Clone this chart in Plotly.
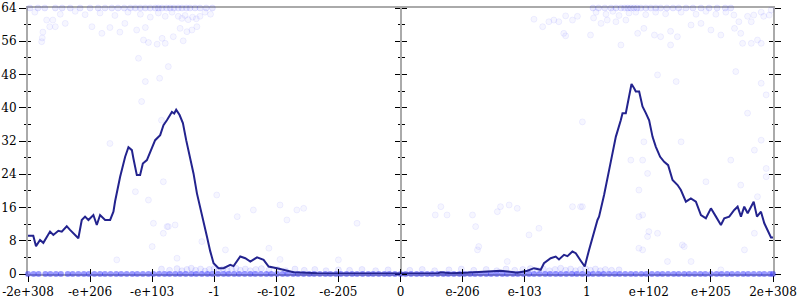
import plotly.graph_objects as go

# ---------------- data ----------------
tick_pos = [-6, -5, -4, -3, -2, -1, 0, 1, 2, 3, 4, 5, 6]
tick_labels = ["-2e+308", "-e+206", "-e+103", "-1", "-e-102", "-e-205", "0",
               "e-206", "e-103", "1", "e+102", "e+205", "2e+308"]
y_ticks = [0, 8, 16, 24, 32, 40, 48, 56, 64]

line_x = [-6.000,-5.915,-5.871,-5.806,-5.753,-5.698,-5.645,-5.592,-5.511,-5.456,
          -5.376,-5.323,-5.269,-5.189,-5.134,-5.081,-5.027,-4.947,-4.892,-4.839,
          -4.758,-4.677,-4.624,-4.597,-4.516,-4.435,-4.382,-4.327,-4.302,-4.247,
          -4.194,-4.150,-4.085,-4.032,-3.952,-3.871,-3.818,-3.763,-3.682,-3.645,
          -3.613,-3.560,-3.505,-3.452,-3.387,-3.334,-3.279,-3.198,-3.118,-3.065,
          -3.011,-2.931,-2.850,-2.742,-2.689,-2.581,-2.500,-2.419,-2.311,-2.205,
          -2.124,-1.989,-1.882,-1.721,-1.344,-0.968,-0.484,0.0,0.592,0.645,
          0.806,1.048,1.344,1.613,1.882,2.044,2.150,2.258,2.311,2.419,
          2.500,2.553,2.634,2.689,2.769,2.823,2.903,2.968,3.037,3.118,
          3.173,3.198,3.279,3.360,3.415,3.468,3.548,3.576,3.629,3.682,
          3.721,3.763,3.790,3.844,3.898,3.952,4.005,4.060,4.113,4.182,
          4.247,4.311,4.382,4.463,4.516,4.597,4.677,4.758,4.839,4.919,
          5.000,5.081,5.161,5.215,5.295,5.376,5.430,5.484,5.537,5.592,
          5.689,5.742,5.806,5.860,5.915,5.968,6.000]
line_y = [9.2,9.2,6.7,8.2,7.5,9.0,10.2,9.4,10.4,10.2,
          11.5,10.6,9.8,8.6,13.0,13.8,13.0,14.2,11.8,14.2,
          13.0,13.0,15.0,17.5,23.4,28.2,30.5,29.8,27.8,23.8,
          23.8,26.6,27.4,29.4,32.2,33.4,35.8,37.0,39.0,38.6,
          39.5,38.3,36.3,32.2,28.2,24.2,19.4,13.8,9.0,5.5,
          2.6,1.4,1.4,2.2,1.9,4.2,3.8,3.0,4.0,3.4,
          1.8,1.4,1.0,0.4,0.2,0.1,0.1,0.1,0.1,0.4,
          0.2,0.3,0.6,0.8,0.3,0.8,1.4,1.0,2.6,3.8,
          4.2,3.5,4.6,4.3,5.4,5.0,3.2,1.8,5.8,10.2,
          13.0,13.8,19.0,25.0,29.0,33.0,37.0,38.7,38.7,42.7,
          45.7,44.7,43.9,43.9,40.3,38.7,37.0,33.0,30.6,28.2,
          27.0,26.2,22.6,21.4,20.2,17.4,18.2,17.4,14.2,13.4,
          15.8,13.8,11.8,13.4,13.8,15.4,16.2,13.8,16.2,14.6,
          17.4,13.8,15.0,12.2,10.6,8.8,8.8]

# samples sitting on the top edge (y = 64)
edge_x = [-5.97,-5.84,-5.73,-5.56,-5.45,-5.32,-5.16,-5.00,-4.87,-4.76,-4.65,-4.55,
          -4.45,-4.35,-4.27,-4.19,-4.11,-4.03,-3.95,-3.90,-3.84,-3.77,-3.71,-3.65,
          -3.58,-3.52,-3.45,-3.39,-3.31,-3.23,-3.13,-3.03,
          3.10,3.19,3.29,3.39,3.47,3.55,3.61,3.66,3.71,3.76,3.81,3.87,3.95,4.03,
          4.11,4.19,4.29,4.39,4.48,4.60,4.71,4.84,4.97,5.10,5.23,5.32]
edge_y = [64] * len(edge_x)

top_pts = [(-5.76,58.2),(-5.77,56.8),(-5.78,55.9),(-5.70,61.1),(-5.60,61.1),(-5.65,59.5),
           (-5.56,59.5),(-5.40,60.3),(-4.97,59.5),(-4.81,57.9),(-4.68,59.3),(-4.52,58.2),
           (-4.44,60.3),(-4.25,58.7),(-4.11,59.3),(-4.14,56.3),(-4.06,55.7),(-3.92,55.3),
           (-3.84,56.7),(-3.79,55.5),(-4.22,51.9),(-3.74,49.9),(-4.11,46.3),(-3.88,47.1),
           (-3.66,57.1),(-3.50,56.1),(-3.55,59.1),(-3.44,58.3),(-3.36,58.7),(-3.28,59.5),
           (-3.58,62.0),(-3.52,61.5),(-3.47,62.2),(-3.42,61.2),(-3.35,61.8),(-3.29,61.4),
           (-3.23,62.0),(-5.89,63.0),(-5.48,62.5),(-5.24,63.2),(-5.08,62.4),(-4.84,62.8),
           (-4.60,62.2),(-4.39,63.0),(-4.19,62.5),(-4.03,61.8),(-3.90,62.8),(-3.79,62.0),
           (-3.68,63.0),(-3.15,63.0),(-3.06,62.5),
           (2.15,61.3),(2.29,59.5),(2.39,60.7),(2.47,61.1),(2.55,60.7),(2.66,62.1),
           (2.77,61.1),(2.85,62.0),(2.63,57.9),(2.66,57.3),(3.06,57.5),(3.11,61.6),
           (3.23,60.3),(3.33,61.1),(3.47,60.7),(3.63,61.1),(3.82,57.9),(3.92,59.1),
           (4.09,57.5),(4.19,57.1),(4.35,58.4),(4.46,57.1),(3.55,55.1),(4.35,55.1),
           (4.68,59.9),(4.84,60.3),(5.00,58.7),(5.16,57.5),(5.38,59.1),(5.48,57.9),
           (5.51,55.5),(5.65,55.5),(5.75,56.3),(5.81,55.5),(5.37,62.3),(5.59,62.0),
           (5.69,62.3),(5.85,62.0),(5.94,62.3),(5.45,60.7),(5.65,60.7),(3.15,63.0),
           (3.31,62.5),(3.42,63.2),(3.52,62.2),(3.68,62.8),(3.79,63.0),(3.95,62.4),
           (4.11,63.0),(4.27,62.6),(4.52,63.0),(4.76,62.5),(4.92,63.2),(5.08,62.5),
           (5.24,63.0),(5.81,63.0),(5.97,63.5)]
top_x = [p[0] for p in top_pts]
top_y = [p[1] for p in top_pts]

mid_pts = [(-3.98,12.2),(-3.82,9.8),(-3.76,11.4),(-3.63,11.8),(-4.57,3.4),(-4.00,6.6),
           (-3.20,7.8),(-2.82,5.8),(-2.63,13.8),(-2.37,15.4),(-1.94,16.6),(-1.67,15.4),
           (-1.56,15.8),(-1.83,13.0),(-0.70,12.2),(-1.00,3.4),(-2.12,6.2),(-1.94,3.5),
           (0.65,16.2),(0.56,14.2),(0.75,14.2),(1.16,14.2),(1.21,11.4),(1.56,15.0),
           (1.61,16.2),(1.75,16.6),(1.88,15.8),(2.23,11.0),(2.07,9.4),(1.26,6.6),
           (1.24,5.8),(1.72,3.0),(2.77,16.2),(2.90,16.2),(3.84,13.8),(3.90,14.2),
           (4.00,10.2),(4.14,9.8),(3.98,9.0),(3.84,6.2),(3.90,5.8),(4.57,6.6),
           (4.30,3.0),(5.70,9.8),(5.54,5.8),(4.68,3.0),(2.93,36.6),(4.14,47.9),
           (4.44,46.3),(3.71,27.4),(3.92,31.8),(3.90,27.4),(3.98,24.2),(3.84,20.2),
           (4.54,7.0),(4.92,22.2),(4.52,31.8),(5.48,21.4),(5.32,27.4),(5.70,29.8),
           (5.59,38.7),(5.81,32.2),(5.89,25.4),(5.89,23.4),(5.89,43.1),(5.81,45.9),
           (5.40,48.7),(5.75,18.6),(5.16,1.0),(2.93,16.2),(-4.17,41.5),(-4.68,31.4),
           (-3.85,37.0),(-3.82,22.2),(-4.27,19.8),(-4.06,17.8),(-3.74,11.4),(-3.60,3.8),
           (-2.96,19.0)]
mid_x = [p[0] for p in mid_pts]
mid_y = [p[1] for p in mid_pts]

low_pts = [(-3.85,1.2),(-3.72,0.9),(-3.6,1.3),(-3.52,0.8),(-3.44,1.1),(-3.37,1.4),
           (-3.3,0.9),(-3.22,1.2),(-3.15,0.7),(-3.08,1.1),(-3.0,1.3),(-2.93,0.9),
           (-2.86,1.2),(-2.79,0.8),(-2.72,1.1),(-2.65,1.4),(-2.58,0.9),(-2.5,1.2),
           (-2.42,0.8),(-2.33,1.1),(-2.24,1.3),(-2.12,0.9),(-1.98,1.1),(-1.85,0.8),
           (-1.7,1.2),(-1.55,0.9),(-1.38,1.1),(-1.2,0.8),(-1.0,1.0),(-0.82,0.9),
           (-0.62,1.1),(-0.4,0.8),(-0.2,1.0),
           (0.15,0.9),(0.35,1.1),(0.55,0.8),(0.78,1.0),(0.98,1.2),(1.18,0.9),
           (1.38,1.1),(1.55,0.8),(1.7,1.2),(1.84,0.9),(1.97,1.1),(2.09,1.3),
           (2.2,0.9),(2.3,1.2),(2.4,0.8),(2.49,1.1),(2.58,1.4),(2.66,0.9),
           (2.74,1.2),(2.82,0.8),(2.9,1.1),(2.98,1.3),(3.06,0.9),(3.14,1.2),
           (3.22,0.8),(3.3,1.1),(3.4,0.9),(3.52,1.0)]
low_x = [p[0] for p in low_pts]
low_y = [p[1] for p in low_pts]

zero_x = [-6.0,-5.91,-5.83,-5.72,-5.64,-5.55,-5.47,-5.36,-5.28,-5.19,-5.1,-5.02,-4.93,
          -4.84,-4.76,-4.67,-4.58,-4.5,-4.41,-4.32,-4.24,-4.15,-4.06,-3.98,-3.89,-3.8,
          -3.72,-3.63,-3.55,-3.46,-3.37,-3.29,-3.2,-3.11,-3.03,-2.94,-2.85,-2.77,-2.68,
          -2.6,-2.51,-2.42,-2.34,-2.25,-2.16,-2.08,-1.99,-1.9,-1.82,-1.73,-1.65,-1.56,
          -1.47,-1.39,-1.3,-1.21,-1.13,-1.04,-0.96,-0.87,-0.78,-0.7,-0.61,-0.52,-0.44,
          -0.35,-0.26,-0.18,-0.09,0.0,0.08,0.17,0.26,0.34,0.43,0.51,0.6,0.69,0.77,0.86,
          0.95,1.03,1.12,1.2,1.29,1.38,1.46,1.55,1.64,1.72,1.81,1.89,1.98,2.07,2.15,
          2.24,2.33,2.41,2.5,2.58,2.67,2.76,2.84,2.93,3.02,3.1,3.19,3.27,3.36,3.45,
          3.53,3.62,3.71,3.79,3.88,3.96,4.05,4.14,4.22,4.31,4.4,4.48,4.57,4.65,4.74,
          4.83,4.91,5.0,5.09,5.17,5.26,5.34,5.43,5.52,5.6,5.69,5.78,5.86,5.95,6.0]
zero_y = [0] * len(zero_x)

# ---------------- figure ----------------
FONT = "DejaVu Serif, Liberation Serif, serif"
AX_GRAY = "#aaaaaa"
faint = dict(size=6, color="rgba(0,0,255,0.035)", line=dict(color="rgba(0,0,255,0.06)", width=1))

fig = go.Figure()
fig.add_trace(go.Scatter(x=top_x + mid_x, y=top_y + mid_y, mode="markers",
                         marker=faint, cliponaxis=False, hoverinfo="skip"))
fig.add_trace(go.Scatter(x=low_x, y=low_y, mode="markers", cliponaxis=False,
                         marker=dict(size=6, color="rgba(0,0,255,0.07)",
                                     line=dict(color="rgba(0,0,255,0.07)", width=1)),
                         hoverinfo="skip"))
fig.add_trace(go.Scatter(x=edge_x, y=edge_y, mode="markers", cliponaxis=False,
                         marker=dict(size=6, color="rgba(0,0,255,0.08)",
                                     line=dict(color="rgba(0,0,255,0.08)", width=1)),
                         hoverinfo="skip"))
fig.add_trace(go.Scatter(x=zero_x, y=zero_y, mode="markers", cliponaxis=False,
                         marker=dict(size=6, color="rgba(30,30,255,0.45)", line=dict(width=0)),
                         hoverinfo="skip"))
fig.add_trace(go.Scatter(x=line_x, y=line_y, mode="lines", cliponaxis=True,
                         line=dict(color="#23238e", width=2), hoverinfo="skip"))

# dummy traces so that extra tick axes are drawn
for ya in ["y2", "y3", "y4", "y5", "y6"]:
    fig.add_trace(go.Scatter(x=[None], y=[None], yaxis=ya, mode="markers", hoverinfo="skip"))
fig.add_trace(go.Scatter(x=[None], y=[None], xaxis="x2", mode="markers", hoverinfo="skip"))

tickfont = dict(family=FONT, size=12, color="black")
yrange = [0, 64]

def yax(**kw):
    d = dict(range=yrange, tickvals=y_ticks, showgrid=False, zeroline=False,
             tickcolor="black", tickwidth=1, fixedrange=True, automargin=False)
    d.update(kw)
    return d

fig.update_layout(
    width=800, height=300,
    margin=dict(l=28, r=27, t=8, b=26, pad=0, autoexpand=False),
    paper_bgcolor="white", plot_bgcolor="white",
    showlegend=False,
    font=dict(family=FONT, size=12, color="black"),
    xaxis=dict(range=[-6, 6], tickvals=tick_pos, ticktext=tick_labels, ticks="outside",
               ticklen=6, tickwidth=1, tickcolor="black", showline=True, linecolor=AX_GRAY,
               linewidth=2, mirror=True, showgrid=False, zeroline=False, tickfont=tickfont,
               layer="below traces", fixedrange=True, automargin=False),
    xaxis2=dict(range=[-6, 6], tickvals=tick_pos, overlaying="x", anchor="y", side="bottom",
                ticks="inside", ticklen=5, tickwidth=1, tickcolor="black", showticklabels=False,
                showline=False, showgrid=False, zeroline=False, automargin=False),
    yaxis=yax(ticks="outside", ticklen=7, showline=True, linecolor=AX_GRAY, linewidth=2,
              tickfont=tickfont, layer="below traces",
              minor=dict(ticks="outside", ticklen=2, dtick=4, tick0=0, tickcolor="black")),
    yaxis2=yax(overlaying="y", side="left", anchor="x", ticks="inside", ticklen=3,
               showticklabels=False, showline=False,
               minor=dict(ticks="inside", ticklen=3, dtick=4, tick0=0, tickcolor="black")),
    yaxis3=yax(overlaying="y", side="left", anchor="free", position=0.5, ticks="outside",
               ticklen=5, showticklabels=False, showline=True, linecolor=AX_GRAY, linewidth=2,
               layer="below traces",
               minor=dict(ticks="outside", ticklen=2, dtick=4, tick0=0, tickcolor="black")),
    yaxis4=yax(overlaying="y", side="right", anchor="free", position=0.5, ticks="outside",
               ticklen=5, showticklabels=False, showline=False,
               minor=dict(ticks="outside", ticklen=3, dtick=4, tick0=0, tickcolor="black")),
    yaxis5=yax(overlaying="y", side="right", anchor="x", ticks="outside", ticklen=6,
               showticklabels=False, showline=True, linecolor=AX_GRAY, linewidth=2,
               layer="below traces",
               minor=dict(ticks="outside", ticklen=3, dtick=4, tick0=0, tickcolor="black")),
    yaxis6=yax(overlaying="y", side="right", anchor="x", ticks="inside", ticklen=4,
               showticklabels=False, showline=False,
               minor=dict(ticks="inside", ticklen=1, dtick=4, tick0=0, tickcolor="black")),
)

fig.write_html("out.html")
